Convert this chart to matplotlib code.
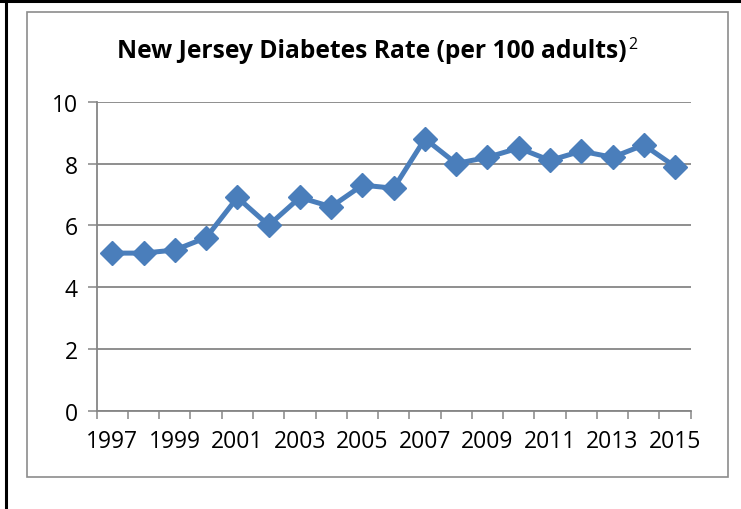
import numpy as np
import matplotlib.pyplot as plt
from matplotlib.patches import Rectangle
from matplotlib.lines import Line2D

# Dados
anos = list(range(1997, 2016))
taxa = [5.1, 5.1, 5.2, 5.6, 6.9, 6.0, 6.9, 6.6, 7.3, 7.2,
        8.8, 8.0, 8.2, 8.5, 8.1, 8.4, 8.2, 8.6, 7.9]
titulo = "New Jersey Diabetes Rate (per 100 adults)"
rotulos_x = [str(a) if (a - 1997) % 2 == 0 else "" for a in anos]

plt.rcParams['font.family'] = ['Open Sans', 'DejaVu Sans']

W, H = 741, 510
fig = plt.figure(figsize=(W / 100, H / 100), dpi=100)

# borda externa preta (esquerda e topo)
fig.add_artist(Line2D([6 / W, 6 / W], [0, 1], color='black', lw=2.2, transform=fig.transFigure))
fig.add_artist(Line2D([0, 1], [1 - 1.5 / H, 1 - 1.5 / H], color='black', lw=2.2, transform=fig.transFigure))

# moldura cinza do gráfico
fig.add_artist(Rectangle((27 / W, 1 - 478 / H), (728 - 27) / W, (478 - 13) / H,
                         fill=False, edgecolor='#8c8c8c', lw=1.2, transform=fig.transFigure))

ax = fig.add_axes([96.7 / W, 1 - 411.7 / H, 594 / W, 309 / H])
x = np.arange(len(anos))
ax.plot(x, taxa, color='#4a7ebb', lw=3.6, marker='D', markersize=12,
        markerfacecolor='#4a7ebb', markeredgecolor='#4a7ebb', zorder=3)

ax.set_xlim(-0.5, len(anos) - 0.5)
ax.set_ylim(0, 10)
ax.set_yticks([0, 2, 4, 6, 8, 10])
ax.grid(axis='y', color='#868686', lw=1.3)
ax.set_axisbelow(True)

ax.set_xticks(x)
ax.set_xticklabels(rotulos_x)
ax.set_xticks(np.arange(-0.5, len(anos)), minor=True)
ax.tick_params(axis='x', which='major', length=0, pad=13, labelsize=16.5)
ax.tick_params(axis='x', which='minor', length=5.5, width=1.1, color='#868686', direction='out')
ax.tick_params(axis='y', length=6.5, width=1.1, color='#868686', pad=7, labelsize=16.5)

for s in ['top', 'right']:
    ax.spines[s].set_visible(False)
for s in ['left', 'bottom']:
    ax.spines[s].set_color('#868686')
    ax.spines[s].set_linewidth(1.3)

t = fig.text(117 / W, 1 - 51 / H, titulo, fontsize=17.7, fontweight='bold',
             ha='left', va='center')
ax.annotate("2", xy=(1, 1), xycoords=t, xytext=(1.5, 1), textcoords='offset points',
            fontsize=11.5, ha='left', va='top')

fig.savefig('out.png', dpi=100)
